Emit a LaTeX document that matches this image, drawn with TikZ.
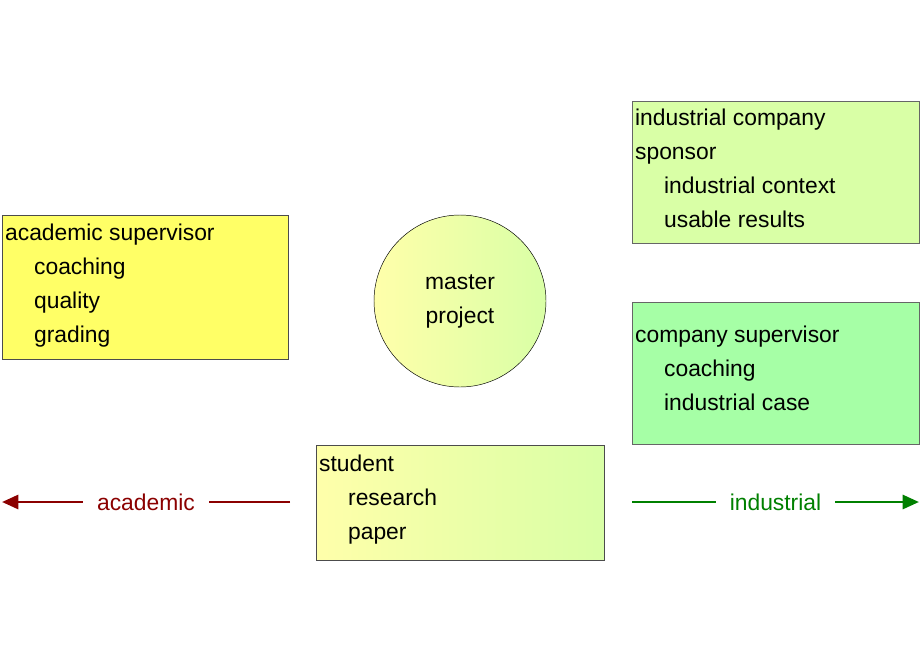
\documentclass[tikz,border=0pt]{standalone}
\usepackage{fontspec}
\setmainfont{Liberation Sans}
\usetikzlibrary{arrows.meta,shadings}
\definecolor{acyellow}{HTML}{FFFF66}
\definecolor{paleyellow}{HTML}{FFFFAA}
\definecolor{palegreen}{HTML}{D9FFA6}
\definecolor{midgreen}{HTML}{A6FFA6}
\definecolor{darkred}{HTML}{8B0000}
\definecolor{indgreen}{HTML}{008000}
\newcommand{\ind}{\hspace*{29\unit}}
\newlength{\unit}
\setlength{\unit}{0.03cm}
\begin{document}
\begin{tikzpicture}[x=0.03cm,y=-0.03cm,
  every node/.style={font=\fontsize{19.5}{29}\selectfont},
  role box/.style={draw=black!70,thin,anchor=north west,align=left,
    inner xsep=7\unit,inner ysep=0pt,text depth=0pt},
  scale line/.style={line width=2.4pt,-{Triangle[length=14pt,width=12pt]}}]
  \useasboundingbox (0,0) rectangle (920,660);

  \fill[acyellow] (2,215) rectangle (288,359);
  \draw[black!70] (2,215) rectangle (288,359);
  \node[anchor=north west,align=left] (acad) at (1,220)
    {academic supervisor\\\ind coaching\\\ind quality\\\ind grading};

  \shade[left color=paleyellow,right color=palegreen] (460,301) circle (86);
  \draw (460,301) circle (86);
  \node[align=center] (proj) at (460,301) {master\\project};

  \fill[palegreen] (632,101) rectangle (919,243);
  \draw[black!60] (632,101) rectangle (919,243);
  \node[anchor=north west,align=left] (comp) at (631,105)
    {industrial company\\sponsor\\\ind industrial context\\\ind usable results};

  \fill[midgreen] (632,302) rectangle (919,444);
  \draw[black!60] (632,302) rectangle (919,444);
  \node[anchor=north west,align=left] (csup) at (631,322)
    {company supervisor\\\ind coaching\\\ind industrial case};

  \shade[left color=paleyellow,right color=palegreen] (316,445) rectangle (604,560);
  \draw[black!70] (316,445) rectangle (604,560);
  \node[anchor=north west,align=left] (stud) at (315,451)
    {student\\\ind research\\\ind paper};

  \coordinate (aR) at (290,502);
  \coordinate (aL) at (2,502);
  \coordinate (iL) at (632,502);
  \coordinate (iR) at (919,502);
  \draw[scale line,darkred] (aR) -- (aL)
    node[midway,fill=white,text=darkred,inner xsep=12pt] (acadlbl) {academic};
  \draw[scale line,indgreen] (iL) -- (iR)
    node[midway,fill=white,text=indgreen,inner xsep=12pt] (indlbl) {industrial};
\end{tikzpicture}
\end{document}
